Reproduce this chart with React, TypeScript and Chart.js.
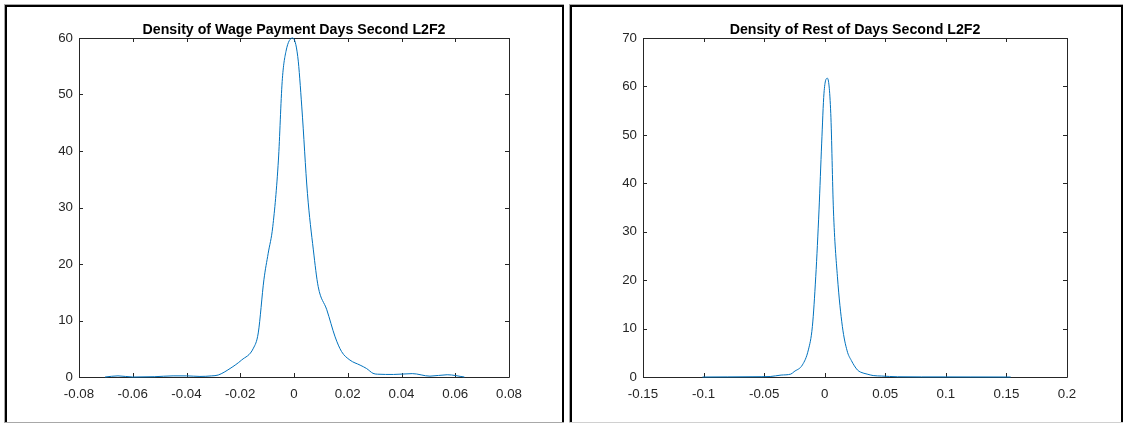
import React, { useEffect, useRef } from "react";
import { Chart, registerables } from "chart.js";

Chart.register(...registerables);

// ---------- DATA ----------
const leftTitle = "Density of Wage Payment Days Second L2F2";
const leftX = [
  -0.0703, -0.0655, -0.06, -0.052, -0.045, -0.04, -0.035, -0.0306, -0.0282, -0.0238,
  -0.0195, -0.0151, -0.0133, -0.0112, -0.0096, -0.0079, -0.0058, -0.0044, -0.003, -0.0005,
  0.0014, 0.0029, 0.005, 0.0072, 0.009, 0.0122, 0.0153, 0.0177, 0.0208, 0.0246,
  0.027, 0.0294, 0.031, 0.037, 0.044, 0.0506, 0.057, 0.0634,
];
const leftY = [
  0, 0.2, 0.0, 0.05, 0.2, 0.2, 0.1, 0.2, 0.35, 1.5,
  3.0, 5.1, 7.8, 17.2, 21.9, 26.6, 38.4, 52.3, 57.6, 60.0,
  56.7, 47.8, 32.5, 22.5, 16.0, 11.9, 7.1, 4.5, 3.0, 2.1,
  1.5, 0.65, 0.5, 0.45, 0.6, 0.15, 0.4, 0,
];
const leftXTicks = [-0.08, -0.06, -0.04, -0.02, 0, 0.02, 0.04, 0.06, 0.08];
const leftYTicks = [0, 10, 20, 30, 40, 50, 60];

const rightTitle = "Density of Rest of Days Second L2F2";
const rightX = [
  -0.1009, -0.08, -0.06, -0.045, -0.036, -0.028, -0.0253, -0.0184, -0.0135, -0.0102,
  -0.0074, -0.0047, -0.0025, -0.0006, 0.0022, 0.005, 0.0072, 0.0105, 0.0146, 0.0185,
  0.022, 0.027, 0.0297, 0.035, 0.04, 0.047, 0.06, 0.08, 0.1, 0.12, 0.1535,
];
const rightY = [
  0, 0.02, 0.05, 0.1, 0.4, 0.6, 1.1, 2.5, 5.6, 10.4,
  20.7, 34.5, 48.3, 58.6, 61.7, 54.4, 34.5, 20.7, 10.4, 5.4,
  3.4, 1.45, 1.0, 0.6, 0.3, 0.2, 0.05, 0.02, 0.02, 0.01, 0,
];
const rightXTicks = [-0.15, -0.1, -0.05, 0, 0.05, 0.1, 0.15, 0.2];
const rightYTicks = [0, 10, 20, 30, 40, 50, 60, 70];

// ---------- STYLE ----------
const FONT = "Arial, 'Liberation Sans', Helvetica, sans-serif";
const AXIS = "#262626";
const LINE = "#0072BD";

const fmt = (v: number) => String(parseFloat(Number(v).toFixed(4)));

type PanelProps = {
  title: string;
  xs: number[];
  ys: number[];
  xTicks: number[];
  yTicks: number[];
  width: number;
  height: number;
  padRight: number;
  yAxisWidth: number;
};

function Panel(p: PanelProps) {
  const ref = useRef<HTMLCanvasElement | null>(null);
  useEffect(() => {
    const canvas = ref.current;
    if (!canvas) return;
    const boxPlugin = {
      id: "matlabBox",
      beforeDatasetsDraw(chart: any) {
        const { ctx, chartArea: a } = chart;
        const xs = chart.scales.x;
        const ys = chart.scales.y;
        ctx.save();
        ctx.strokeStyle = AXIS;
        ctx.lineWidth = 1;
        ctx.beginPath();
        ctx.rect(a.left + 0.5, a.top + 0.5, a.right - a.left, a.bottom - a.top);
        const tl = 4;
        p.xTicks.forEach((v) => {
          const px = Math.round(xs.getPixelForValue(v)) + 0.5;
          ctx.moveTo(px, a.bottom);
          ctx.lineTo(px, a.bottom - tl);
          ctx.moveTo(px, a.top);
          ctx.lineTo(px, a.top + tl);
        });
        p.yTicks.forEach((v) => {
          const py = Math.round(ys.getPixelForValue(v)) + 0.5;
          ctx.moveTo(a.left, py);
          ctx.lineTo(a.left + tl, py);
          ctx.moveTo(a.right, py);
          ctx.lineTo(a.right - tl, py);
        });
        ctx.stroke();
        ctx.restore();
      },
      afterDraw(chart: any) {
        const { ctx, chartArea: a } = chart;
        ctx.save();
        ctx.fillStyle = "#000";
        ctx.font = `bold 14.2px ${FONT}`;
        ctx.textAlign = "center";
        ctx.textBaseline = "alphabetic";
        ctx.fillText(p.title, (a.left + a.right) / 2, 26.5);
        ctx.restore();
      },
    };
    const chart = new Chart(canvas, {
      type: "line",
      data: {
        datasets: [
          {
            data: p.xs.map((x, i) => ({ x, y: p.ys[i] })),
            borderColor: LINE,
            borderWidth: 1,
            pointRadius: 0,
            fill: false,
            cubicInterpolationMode: "monotone",
            clip: false as any,
          },
        ],
      },
      options: {
        animation: false,
        responsive: false,
        events: [],
        layout: { padding: { left: 0, top: 31, right: p.padRight, bottom: 0 } },
        plugins: { legend: { display: false }, tooltip: { enabled: false }, title: { display: false } },
        scales: {
          x: {
            type: "linear",
            min: p.xTicks[0],
            max: p.xTicks[p.xTicks.length - 1],
            afterBuildTicks: (s: any) => {
              s.ticks = p.xTicks.map((v) => ({ value: v }));
            },
            afterFit: (s: any) => {
              s.height = p.height - 370;
            },
            grid: { display: false, drawTicks: false },
            border: { display: false },
            ticks: {
              padding: 9,
              color: AXIS,
              font: { family: FONT, size: 13.3 },
              maxRotation: 0,
              autoSkip: false,
              callback: (v: any) => fmt(v),
            },
          },
          y: {
            type: "linear",
            min: p.yTicks[0],
            max: p.yTicks[p.yTicks.length - 1],
            afterBuildTicks: (s: any) => {
              s.ticks = p.yTicks.map((v) => ({ value: v }));
            },
            afterFit: (s: any) => {
              s.width = p.yAxisWidth;
            },
            grid: { display: false, drawTicks: false },
            border: { display: false },
            ticks: {
              padding: 6,
              color: AXIS,
              font: { family: FONT, size: 13.3 },
              autoSkip: false,
              callback: (v: any) => fmt(v),
            },
          },
        },
      } as any,
      plugins: [boxPlugin],
    });
    return () => chart.destroy();
  }, []);
  return <canvas ref={ref} width={p.width} height={p.height} style={{ display: "block", width: p.width, height: p.height }} />;
}

const abs = (s: React.CSSProperties): React.CSSProperties => ({ position: "absolute", boxSizing: "border-box", ...s });

export default function App() {
  return (
    <div style={{ position: "fixed", left: 0, top: 0, width: 1124, height: 423, background: "#fff", overflow: "hidden" }}>
      {/* left frame */}
      <div style={abs({ left: 4, top: 4, width: 560, height: 419, borderTop: "1px solid #a8a8a8", borderLeft: "1px solid #a8a8a8" })} />
      <div style={abs({ left: 5, top: 5, width: 559, height: 418, borderTop: "2px solid #000", borderLeft: "2px solid #000", borderRight: "2px solid #000" })} />
      <div style={abs({ left: 4, top: 422, width: 560, height: 1, background: "#a8a8a8" })} />
      {/* right frame */}
      <div style={abs({ left: 569, top: 4, width: 554, height: 419, borderTop: "1px solid #a8a8a8", borderLeft: "1px solid #a8a8a8" })} />
      <div style={abs({ left: 570, top: 5, width: 553, height: 418, borderTop: "2px solid #000", borderLeft: "2px solid #000", borderRight: "2px solid #000" })} />
      <div style={abs({ left: 569, top: 422, width: 554, height: 1, background: "#d0d0d0" })} />
      <div style={abs({ left: 7, top: 7, width: 555, height: 415 })}>
        <Panel title={leftTitle} xs={leftX} ys={leftY} xTicks={leftXTicks} yTicks={leftYTicks}
          width={555} height={415} padRight={53} yAxisWidth={72} />
      </div>
      <div style={abs({ left: 572, top: 7, width: 549, height: 415 })}>
        <Panel title={rightTitle} xs={rightX} ys={rightY} xTicks={rightXTicks} yTicks={rightYTicks}
          width={549} height={415} padRight={54} yAxisWidth={71} />
      </div>
    </div>
  );
}
